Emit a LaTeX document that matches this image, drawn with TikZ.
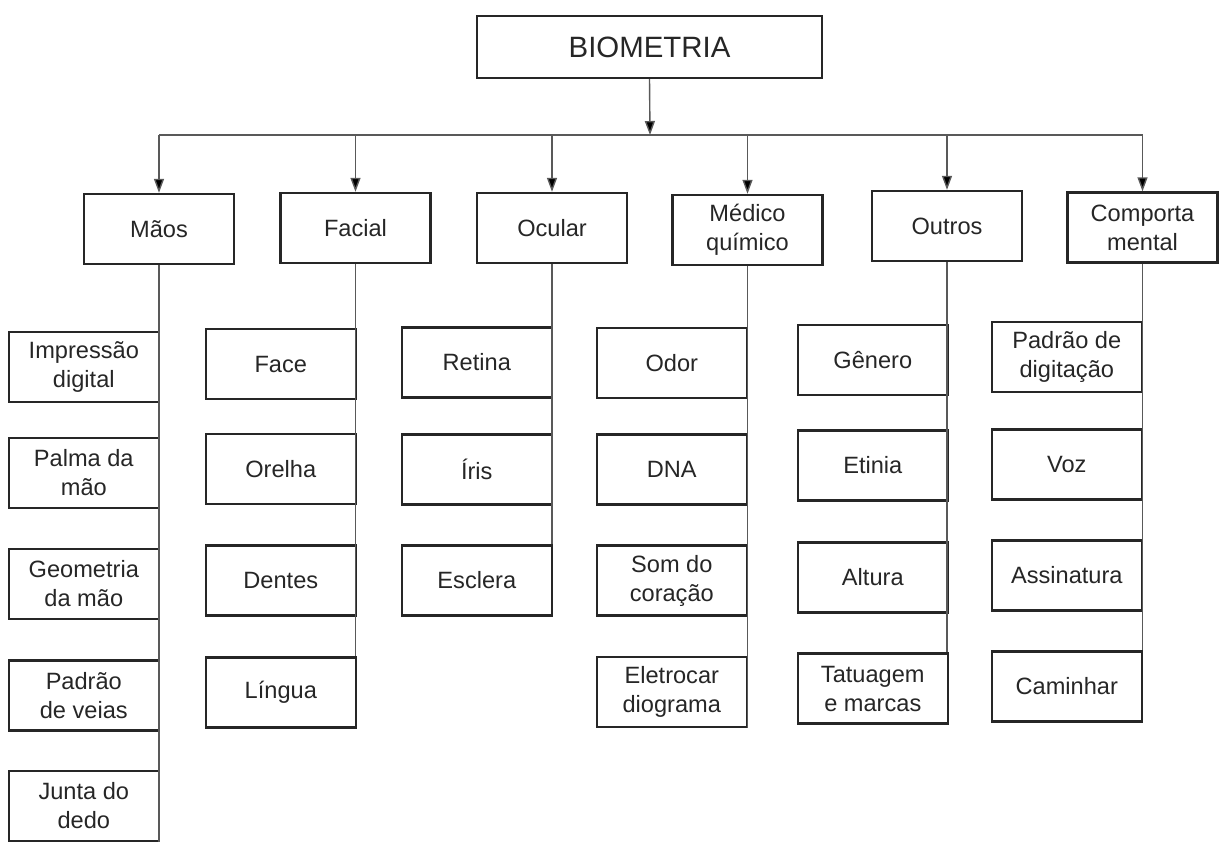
\documentclass[tikz,border=0pt]{standalone}
\usepackage{fontspec}
\setmainfont{Liberation Sans}
\usetikzlibrary{arrows.meta}
\begin{document}
\begin{tikzpicture}[x=0.5pt,y=-0.5pt,
  box/.style={draw=black!85, line width=1.2pt, minimum width=75pt,
    minimum height=35pt, inner sep=0pt, align=center, text=black!85,
    font=\fontsize{11.8}{14.5}\selectfont},
  leaf/.style={box, anchor=east},
  rootbox/.style={box, minimum width=172.5pt, minimum height=31pt,
    font=\fontsize{14.7}{17}\selectfont},
  link/.style={draw=black!65, line width=0.7pt},
  arr/.style={link, -{Triangle[length=7pt,width=5pt,fill=black]}}
]
\useasboundingbox (0,0) rectangle (1219,843);

% root
\node[rootbox] (root) at (649.5,47) {BIOMETRIA};
\coordinate (bus) at (650,135);

% categories
\node[box] (mao) at (159,229)   {Mãos};
\node[box] (fac) at (355.5,228) {Facial};
\node[box] (ocu) at (552,228)   {Ocular};
\node[box] (med) at (747.5,230) {Médico\\químico};
\node[box] (out) at (947,226)   {Outros};
\node[box] (com) at (1142.5,227.5) {Comporta\\mental};

% leaves: Mãos
\node[leaf] (m1) at (160,367)   {Impressão\\digital};
\node[leaf] (m2) at (160,473)   {Palma da\\mão};
\node[leaf] (m3) at (160,584)   {Geometria\\da mão};
\node[leaf] (m4) at (160,695.5) {Padrão\\de veias};
\node[leaf] (m5) at (160,806)   {Junta do\\dedo};

% leaves: Facial
\node[leaf] (f1) at (357,364)   {Face};
\node[leaf] (f2) at (357,469)   {Orelha};
\node[leaf] (f3) at (357,580.5) {Dentes};
\node[leaf] (f4) at (357,692.5) {Língua};

% leaves: Ocular
\node[leaf] (o1) at (553,362.5) {Retina};
\node[leaf] (o2) at (553,469.5) {Íris};
\node[leaf] (o3) at (553,580.5) {Esclera};

% leaves: Médico químico
\node[leaf] (d1) at (748,363)   {Odor};
\node[leaf] (d2) at (748,469.5) {DNA};
\node[leaf] (d3) at (748,580.5) {Som do\\coração};
\node[leaf] (d4) at (748,692)   {Eletrocar\\diograma};

% leaves: Outros
\node[leaf] (t1) at (949,360)   {Gênero};
\node[leaf] (t2) at (949,465.5) {Etinia};
\node[leaf] (t3) at (949,577.5) {Altura};
\node[leaf] (t4) at (949,688.5) {Tatuagem\\e marcas};

% leaves: Comportamental
\node[leaf] (c1) at (1143,357)   {Padrão de\\digitação};
\node[leaf] (c2) at (1143,464.5) {Voz};
\node[leaf] (c3) at (1143,575.5) {Assinatura};
\node[leaf] (c4) at (1143,686.5) {Caminhar};

% root to bus
\draw[arr] (root.south) -- (bus);
\draw[link] (mao.north |- bus) -- (com.north |- bus);

% bus to categories
\foreach \c in {mao,fac,ocu,med,out,com}
  \draw[arr] (\c.north |- bus) -- (\c.north);

% category spines along the leaf boxes
\draw[link] (mao.south) -- (mao.south |- m5.south);
\draw[link] (fac.south) -- (fac.south |- f4.north);
\draw[link] (ocu.south) -- (ocu.south |- o3.north);
\draw[link] (med.south) -- (med.south |- d4.south);
\draw[link] (out.south) -- (out.south |- t4.north);
\draw[link] (com.south) -- (com.south |- c4.north);
\end{tikzpicture}
\end{document}
